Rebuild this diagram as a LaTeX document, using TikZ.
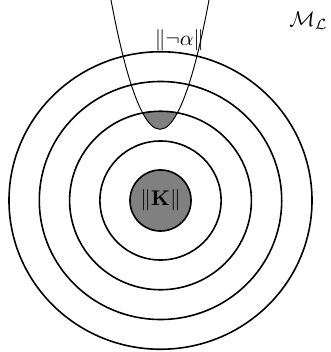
\documentclass[tikz,border=0pt]{standalone}
\usepackage{amsmath}
\begin{document}
\begin{tikzpicture}[x=0.47pt,y=-0.47pt,
  ring/.style={draw=black,line width=0.75pt},
  kcirc/.style={circle,draw=black,line width=0.75pt,fill=gray,minimum size=28.7pt,inner sep=0pt},
  para/.style={draw=black,line width=0.45pt},
  lbl/.style={inner sep=0pt}]
\useasboundingbox (0,0) rectangle (330,352);
\coordinate (c) at (160.5,200.5);
\begin{scope}
  \clip (111,0) parabola bend (160,129.3) (209,0) -- cycle;
  \fill[gray] (c) ellipse [x radius=90.9, y radius=89.25];
\end{scope}
\foreach \k in {2,3,4,5}{
  \draw[ring] (c) ellipse [x radius={30.3*\k}, y radius={29.75*\k}];
}
\node[kcirc] (K) at (c) {$\|\mathbf{K}\|$};
\draw[para] (111,0) parabola bend (160,129.3) (209,0);
\node[lbl] (alpha) at (179.5,40) {$\|\neg\alpha\|$};
\node[lbl] (ML) at (308.5,21) {$\mathcal{M}_{\mathcal{L}}$};
\end{tikzpicture}
\end{document}
